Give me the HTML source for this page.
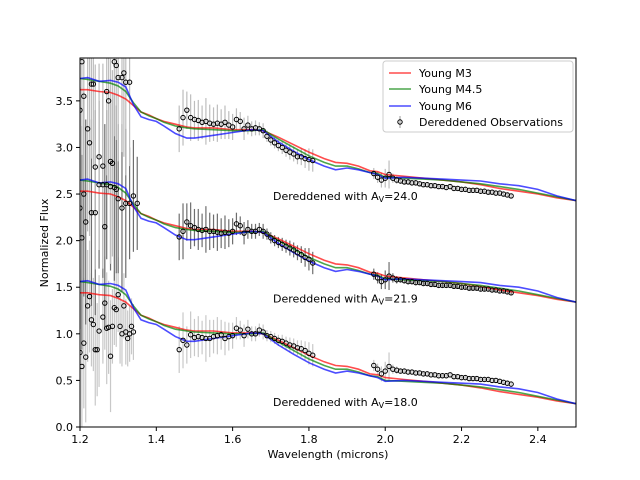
<!DOCTYPE html>
<html><head><meta charset="utf-8"><style>
body{margin:0;background:#fff}
svg{display:block;font-family:"DejaVu Sans","Liberation Sans",sans-serif}
</style></head><body>
<svg id="c" width="640" height="480"></svg>
<script>
const modelX=[1.2,1.22,1.25,1.28,1.3,1.32,1.34,1.36,1.38,1.4,1.42,1.45,1.48,1.5,1.55,1.6,1.65,1.68,1.72,1.76,1.8,1.84,1.87,1.9,1.93,1.96,1.98,2.0,2.05,2.1,2.15,2.2,2.25,2.3,2.35,2.4,2.45,2.5];
const redM=[1.44,1.44,1.42,1.41,1.38,1.34,1.27,1.2,1.17,1.13,1.1,1.07,1.04,1.03,1.03,1.01,1.01,1.0,0.93,0.85,0.77,0.7,0.66,0.65,0.62,0.57,0.56,0.53,0.51,0.49,0.47,0.45,0.42,0.38,0.35,0.32,0.28,0.25];
const greenM=[1.56,1.55,1.53,1.51,1.48,1.42,1.3,1.2,1.16,1.13,1.09,1.05,1.03,1.02,1.01,1.0,1.0,1.01,0.91,0.82,0.73,0.66,0.62,0.62,0.59,0.55,0.54,0.5,0.49,0.48,0.47,0.45,0.43,0.4,0.37,0.33,0.29,0.25];
const blueM=[1.56,1.57,1.53,1.54,1.52,1.47,1.28,1.15,1.12,1.1,1.05,0.97,0.92,0.92,0.95,0.98,1.01,1.0,0.88,0.78,0.69,0.62,0.58,0.6,0.58,0.55,0.53,0.49,0.5,0.49,0.48,0.47,0.46,0.43,0.41,0.37,0.3,0.25];
const setOffsets=[0,1.09,2.18];
const setLabels=["Dereddened with A","Dereddened with A","Dereddened with A"];
const avValues=["18.0","21.9","24.0"];
const labelY=[0.27,1.38,2.48];

const jxTop=[1.2,1.205,1.21,1.22,1.225,1.23,1.235,1.24,1.25,1.26,1.27,1.275,1.28,1.285,1.29,1.295,1.3,1.31,1.315,1.32,1.33];
const jyTop=[3.4,3.92,3.55,3.2,3.05,3.68,3.68,2.79,2.9,2.8,3.6,3.5,2.85,2.83,3.92,3.88,3.75,3.75,3.8,3.7,3.7];
const jeTop=[0.9,1.0,0.9,1.1,1.0,0.8,0.9,1.1,1.0,1.1,0.9,1.0,1.1,1.0,0.8,0.8,0.9,0.8,0.9,1.0,0.9];
const jxMid=[1.2,1.205,1.21,1.215,1.23,1.24,1.25,1.26,1.265,1.27,1.28,1.29,1.295,1.3,1.31,1.32,1.33,1.34,1.35];
const jyMid=[2.35,2.03,2.5,2.2,2.3,2.3,2.6,2.6,2.15,2.6,2.58,2.57,2.55,2.45,2.35,2.4,2.4,2.48,2.4];
const jeMid=[1.3,1.2,1.1,1.1,1.0,1.1,0.9,1.0,1.1,0.8,0.9,1.0,0.9,0.8,0.9,0.8,0.6,0.6,0.5];
const jxBot=[1.2,1.205,1.21,1.215,1.22,1.225,1.23,1.235,1.24,1.245,1.25,1.26,1.265,1.27,1.275,1.28,1.285,1.29,1.295,1.3,1.305,1.31,1.315,1.32,1.325,1.33,1.335,1.34];
const jyBot=[0.8,0.65,0.9,0.75,1.3,1.4,1.15,1.1,0.83,0.83,1.03,1.18,1.33,1.06,1.07,0.76,1.08,1.28,1.26,1.42,1.08,1.0,1.3,1.02,0.95,1.0,1.08,1.02];
const jeBot=[0.9,0.8,0.7,0.7,0.6,0.6,0.5,0.5,0.6,0.5,0.6,0.5,0.5,0.6,0.5,0.6,0.4,0.4,0.4,0.4,0.4,0.35,0.35,0.35,0.3,0.3,0.3,0.3];

const hx=[1.46,1.47,1.48,1.49,1.5,1.51,1.52,1.53,1.54,1.55,1.56,1.57,1.58,1.59,1.6,1.61,1.62,1.63,1.64,1.65,1.66,1.67,1.68,1.69,1.7,1.71,1.72,1.73,1.74,1.75,1.76,1.77,1.78,1.79,1.8,1.81];
const hyBot=[0.83,0.93,0.88,0.99,0.96,0.97,0.96,0.95,0.95,0.97,0.98,0.99,0.95,0.97,0.98,1.06,1.04,0.98,1.05,1.0,1.0,1.04,1.02,0.98,0.97,0.95,0.93,0.92,0.9,0.88,0.87,0.85,0.84,0.82,0.79,0.77];
const hyMid=[2.04,2.1,2.2,2.16,2.14,2.12,2.11,2.12,2.1,2.1,2.09,2.08,2.09,2.08,2.1,2.18,2.16,2.08,2.12,2.1,2.1,2.12,2.1,2.07,2.03,2.0,1.98,1.96,1.94,1.92,1.9,1.87,1.85,1.82,1.8,1.76];
const hyTop=[3.2,3.32,3.4,3.32,3.3,3.29,3.27,3.28,3.26,3.25,3.26,3.25,3.27,3.24,3.22,3.3,3.28,3.2,3.24,3.2,3.21,3.2,3.18,3.12,3.08,3.05,3.02,3.0,2.97,2.95,2.93,2.9,2.9,2.88,2.87,2.86];
const hErr=[0.25,0.3,0.2,0.25,0.2,0.22,0.18,0.25,0.2,0.18,0.2,0.16,0.18,0.15,0.14,0.12,0.1,0.12,0.1,0.08,0.08,0.07,0.08,0.06,0.06,0.06,0.06,0.07,0.07,0.08,0.08,0.08,0.09,0.1,0.12,0.12];

const kx=[1.97,1.98,1.99,2.0,2.01,2.02,2.03,2.04,2.05,2.06,2.07,2.08,2.09,2.1,2.11,2.12,2.13,2.14,2.15,2.16,2.17,2.18,2.19,2.2,2.21,2.22,2.23,2.24,2.25,2.26,2.27,2.28,2.29,2.3,2.31,2.32,2.33];
const kyBot=[0.66,0.62,0.57,0.6,0.65,0.62,0.61,0.6,0.6,0.59,0.59,0.58,0.58,0.57,0.57,0.56,0.56,0.55,0.55,0.55,0.56,0.54,0.54,0.53,0.53,0.52,0.52,0.52,0.51,0.51,0.51,0.5,0.5,0.49,0.48,0.47,0.46];
const kyMid=[1.64,1.6,1.56,1.58,1.62,1.6,1.58,1.58,1.57,1.56,1.56,1.55,1.55,1.54,1.54,1.53,1.53,1.52,1.52,1.52,1.52,1.51,1.51,1.5,1.5,1.49,1.49,1.49,1.48,1.48,1.48,1.47,1.47,1.46,1.46,1.45,1.44];
const kyTop=[2.72,2.68,2.65,2.67,2.71,2.67,2.65,2.64,2.63,2.63,2.62,2.62,2.61,2.6,2.6,2.59,2.59,2.58,2.58,2.57,2.58,2.56,2.56,2.55,2.55,2.54,2.54,2.54,2.53,2.53,2.52,2.52,2.51,2.51,2.5,2.49,2.48];
const kErr=[0.06,0.06,0.08,0.1,0.15,0.05,0.04,0.03,0.03,0.03,0.03,0.03,0.02,0.02,0.02,0.02,0.02,0.02,0.02,0.02,0.02,0.02,0.02,0.02,0.02,0.02,0.02,0.02,0.02,0.02,0.02,0.02,0.02,0.02,0.02,0.02,0.02];

const xTicks=[1.2,1.4,1.6,1.8,2.0,2.2,2.4];
const xTickLabels=["1.2","1.4","1.6","1.8","2.0","2.2","2.4"];
const yTicks=[0,0.5,1,1.5,2,2.5,3,3.5];
const yTickLabels=["0.0","0.5","1.0","1.5","2.0","2.5","3.0","3.5"];

const L=80,R=576,T=58,B=427,X0=1.2,X1=2.5,Y0=0,Y1=3.96;
const sx=v=>L+(v-X0)/(X1-X0)*(R-L);
const sy=v=>B-(v-Y0)/(Y1-Y0)*(B-T);
const svg=document.getElementById('c');
const NS='http://www.w3.org/2000/svg';
function mk(tag,attrs,parent){const e=document.createElementNS(NS,tag);for(const k in attrs)e.setAttribute(k,attrs[k]);(parent||svg).appendChild(e);return e;}

const defs=mk('defs',{});
const cp=mk('clipPath',{id:'pc'},defs);
mk('rect',{x:L,y:T,width:R-L,height:B-T},cp);
const plot=mk('g',{'clip-path':'url(#pc)'});



const errCols=['#c8c8c8','#6e6e6e','#bdbdbd'];
const obsSets=[
 [[jxBot,jyBot,jeBot],[hx,hyBot,hErr],[kx,kyBot,kErr]],
 [[jxMid,jyMid,jeMid],[hx,hyMid,hErr],[kx,kyMid,kErr]],
 [[jxTop,jyTop,jeTop],[hx,hyTop,hErr],[kx,kyTop,kErr]]
];
obsSets.forEach((set,si)=>{set.forEach(([xs,ys,es])=>{xs.forEach((x,i)=>{
  const l=mk('line',{x1:sx(x),x2:sx(x),y1:sy(ys[i]-es[i]),y2:sy(ys[i]+es[i]),stroke:errCols[si],'stroke-width':1.2},plot);
  
  
});});});
const models=[[redM,'#ff0000','model-young-m3'],[greenM,'#008000','model-young-m4-5'],[blueM,'#0000ff','model-young-m6']];
setOffsets.forEach((off,si)=>{models.forEach(([ys,col,nm])=>{
  const d=modelX.map((x,i)=>(i?'L':'M')+sx(x).toFixed(1)+','+sy(ys[i]+off).toFixed(1)).join('');
  const p=mk('path',{d:d,fill:'none',stroke:col,'stroke-opacity':0.7,'stroke-width':1.6},plot);
  
  
});});
obsSets.forEach((set)=>{set.forEach(([xs,ys])=>{xs.forEach((x,i)=>{
  const c=mk('circle',{cx:sx(x),cy:sy(ys[i]),r:2.2,fill:'none',stroke:'#000','stroke-width':1},plot);
  
  
});});});
setOffsets.forEach((off,si)=>{
  const t=mk('text',{x:273,y:sy(labelY[si])+4,'font-size':11});
  
  
  t.textContent=setLabels[si];
  const s=mk('tspan',{'font-size':8,dy:2},t);s.textContent='V';
  const s2=mk('tspan',{dy:-2},t);s2.textContent='='+avValues[si];
});
const fr=mk('rect',{x:L,y:T,width:R-L,height:B-T,fill:'none',stroke:'#000','stroke-width':1});


xTicks.forEach((v,i)=>{
  mk('line',{x1:sx(v),x2:sx(v),y1:B,y2:B+4,stroke:'#000'});
  const t=mk('text',{x:sx(v),y:B+16,'font-size':11,'text-anchor':'middle'});
  
  
  t.textContent=xTickLabels[i];
});
yTicks.forEach((v,i)=>{
  mk('line',{x1:L-4,x2:L,y1:sy(v),y2:sy(v),stroke:'#000'});
  const t=mk('text',{x:L-7,y:sy(v)+4,'font-size':11,'text-anchor':'end'});
  
  
  t.textContent=yTickLabels[i];
});
</script>
<svg style="position:absolute;left:0;top:0" width="640" height="480" font-family="DejaVu Sans, Liberation Sans, sans-serif">
<text x="328" y="458" font-size="11" text-anchor="middle">Wavelength (microns)</text>
<text transform="translate(48,243) rotate(-90)" font-size="11" text-anchor="middle">Normalized Flux</text>
<g>
<rect x="383" y="61" width="190" height="71" rx="3" fill="#fff" fill-opacity="0.85" stroke="#ccc"/>
<line x1="389" y1="73" x2="411" y2="73" stroke="#ff0000" stroke-opacity="0.7" stroke-width="1.6"/>
<text x="419" y="77" font-size="11">Young M3</text>
<line x1="389" y1="89" x2="411" y2="89" stroke="#008000" stroke-opacity="0.7" stroke-width="1.6"/>
<text x="419" y="93" font-size="11">Young M4.5</text>
<line x1="389" y1="106" x2="411" y2="106" stroke="#0000ff" stroke-opacity="0.7" stroke-width="1.6"/>
<text x="419" y="110" font-size="11">Young M6</text>
<line x1="400" y1="116" x2="400" y2="128" stroke="#aaa" stroke-width="1.2"/>
<circle cx="400" cy="122" r="2.2" fill="none" stroke="#000"/>
<text x="419" y="126" font-size="11">Dereddened Observations</text>
</g>
</svg>
</body></html>
